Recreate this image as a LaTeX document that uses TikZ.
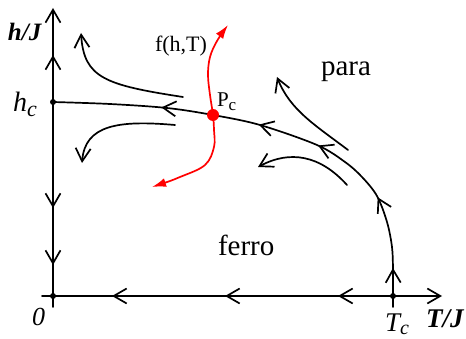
\documentclass[tikz,border=0pt]{standalone}
\usepackage{fontspec}
\setmainfont{Liberation Serif}
\usetikzlibrary{arrows.meta,decorations.markings}
\tikzset{
  myb/.tip={Straight Barb[length=13pt,width=15pt]},
  redtip/.tip={Latex[length=14pt,width=9pt]},
  flowline/.style={line width=1.7pt,line cap=round},
  redline/.style={line width=1.7pt,red},
  dotblack/.style={circle,fill=black,inner sep=0pt,minimum size=6pt},
  dotred/.style={circle,fill=red,inner sep=0pt,minimum size=12pt},
  lab/.style={inner sep=0pt,outer sep=0pt},
  mk/.style={postaction={decorate},decoration={markings,#1}},
}
\newcommand\fs[1]{\fontsize{#1}{#1}\selectfont}
\begin{document}
\begin{tikzpicture}[x=1pt,y=-1pt]
\useasboundingbox (0,0) rectangle (466,339);
% key points
\coordinate (O) at (53,296);
\coordinate (Hc) at (53,102);
\coordinate (Tc) at (393,296);
\coordinate (Ytop) at (53,8);
\coordinate (Ybot) at (53,307);
\coordinate (Xleft) at (42,296);
\coordinate (Xright) at (442,296);
\coordinate (Tcb) at (393,307);
\coordinate (Pc) at (213,115);
% axes
\draw[flowline,-{myb},mk={mark=at position 47pt with {\arrow{myb}}}] (Hc) -- (Ytop);
\draw[flowline,mk={mark=at position 106pt with {\arrow{myb}},mark=at position 163pt with {\arrow{myb}}}] (Hc) -- (O);
\draw[flowline] (O) -- (Ybot);
\draw[flowline] (Xleft) -- (O);
\draw[flowline,mk={mark=at position 55pt with {\arrow{myb}},mark=at position 168pt with {\arrow{myb}},mark=at position 281pt with {\arrow{myb}}}] (Tc) -- (O);
\draw[flowline,-{myb}] (Tc) -- (Xright);
\draw[flowline] (Tc) -- (Tcb);
% critical line
\draw[flowline,mk={mark=at position 28pt with {\arrow{myb}},mark=at position 101pt with {\arrow{myb}},mark=at position 181pt with {\arrow{myb}},mark=at position 244pt with {\arrow{myb}},mark=at position 343pt with {\arrow{myb}}}]
  plot[smooth,tension=0.55] coordinates {(Tc) (393,270) (392,247) (387,222) (377,196) (362,177) (345,162) (317,145) (260,125) (Pc) (167,108) (110,104) (Hc)};
% flow lines
\coordinate (A1) at (183,97);  \coordinate (A2) at (81,33);
\coordinate (B1) at (175,125); \coordinate (B2) at (82,163);
\coordinate (C1) at (348,150); \coordinate (C2) at (277,77);
\coordinate (D1) at (347,185); \coordinate (D2) at (258,167);
\draw[flowline,-{myb}] (A1) .. controls (105,85) and (84,78) .. (A2);
\draw[flowline,-{myb}] (B1) .. controls (118,120) and (85,125) .. (B2);
\draw[flowline,-{myb}] (C1) .. controls (315,125) and (290,110) .. (C2);
\draw[flowline,-{myb}] (D1) .. controls (320,155) and (290,150) .. (D2);
% red curve
\coordinate (R1) at (152,187);
\coordinate (R2) at (228,25);
\draw[redline,{redtip}-{redtip}] plot[smooth,tension=0.6] coordinates {(R1) (180,177) (205,165) (214,147) (214,130) (Pc) (210,95) (208,75) (210,57) (217,41) (R2)};
% dots
\node[dotblack] (dO) at (O) {};
\node[dotblack] (dHc) at (Hc) {};
\node[dotblack] (dTc) at (Tc) {};
\node[dotred] (dPc) at (Pc) {};
% labels
\node[lab,anchor=base west] (lhJ) at (8,41) {\fs{25}\bfseries\itshape h/J};
\node[lab,anchor=base west] (lhc) at (13,112) {\fs{28}\itshape h\raisebox{-5pt}{\fs{22}c}};
\node[lab,anchor=base west] (l0) at (32,325) {\fs{26}\itshape 0};
\node[lab,anchor=base west] (lTc) at (385,331) {\fs{27}\itshape T\raisebox{-3pt}{\fs{20}c}};
\node[lab,anchor=base west] (lTJ) at (426,327) {\fs{27}\bfseries\itshape T/J};
\node[lab,anchor=base west] (lpara) at (321,76) {\fs{29}para};
\node[lab,anchor=base west] (lferro) at (218,256) {\fs{29}ferro};
\node[lab,anchor=base west] (lf) at (155,52) {\fs{22}f(h,T)};
\node[lab,anchor=base west] (lPc) at (217,107) {\fs{21}P\raisebox{-4pt}{\fs{17}c}};
\end{tikzpicture}
\end{document}
